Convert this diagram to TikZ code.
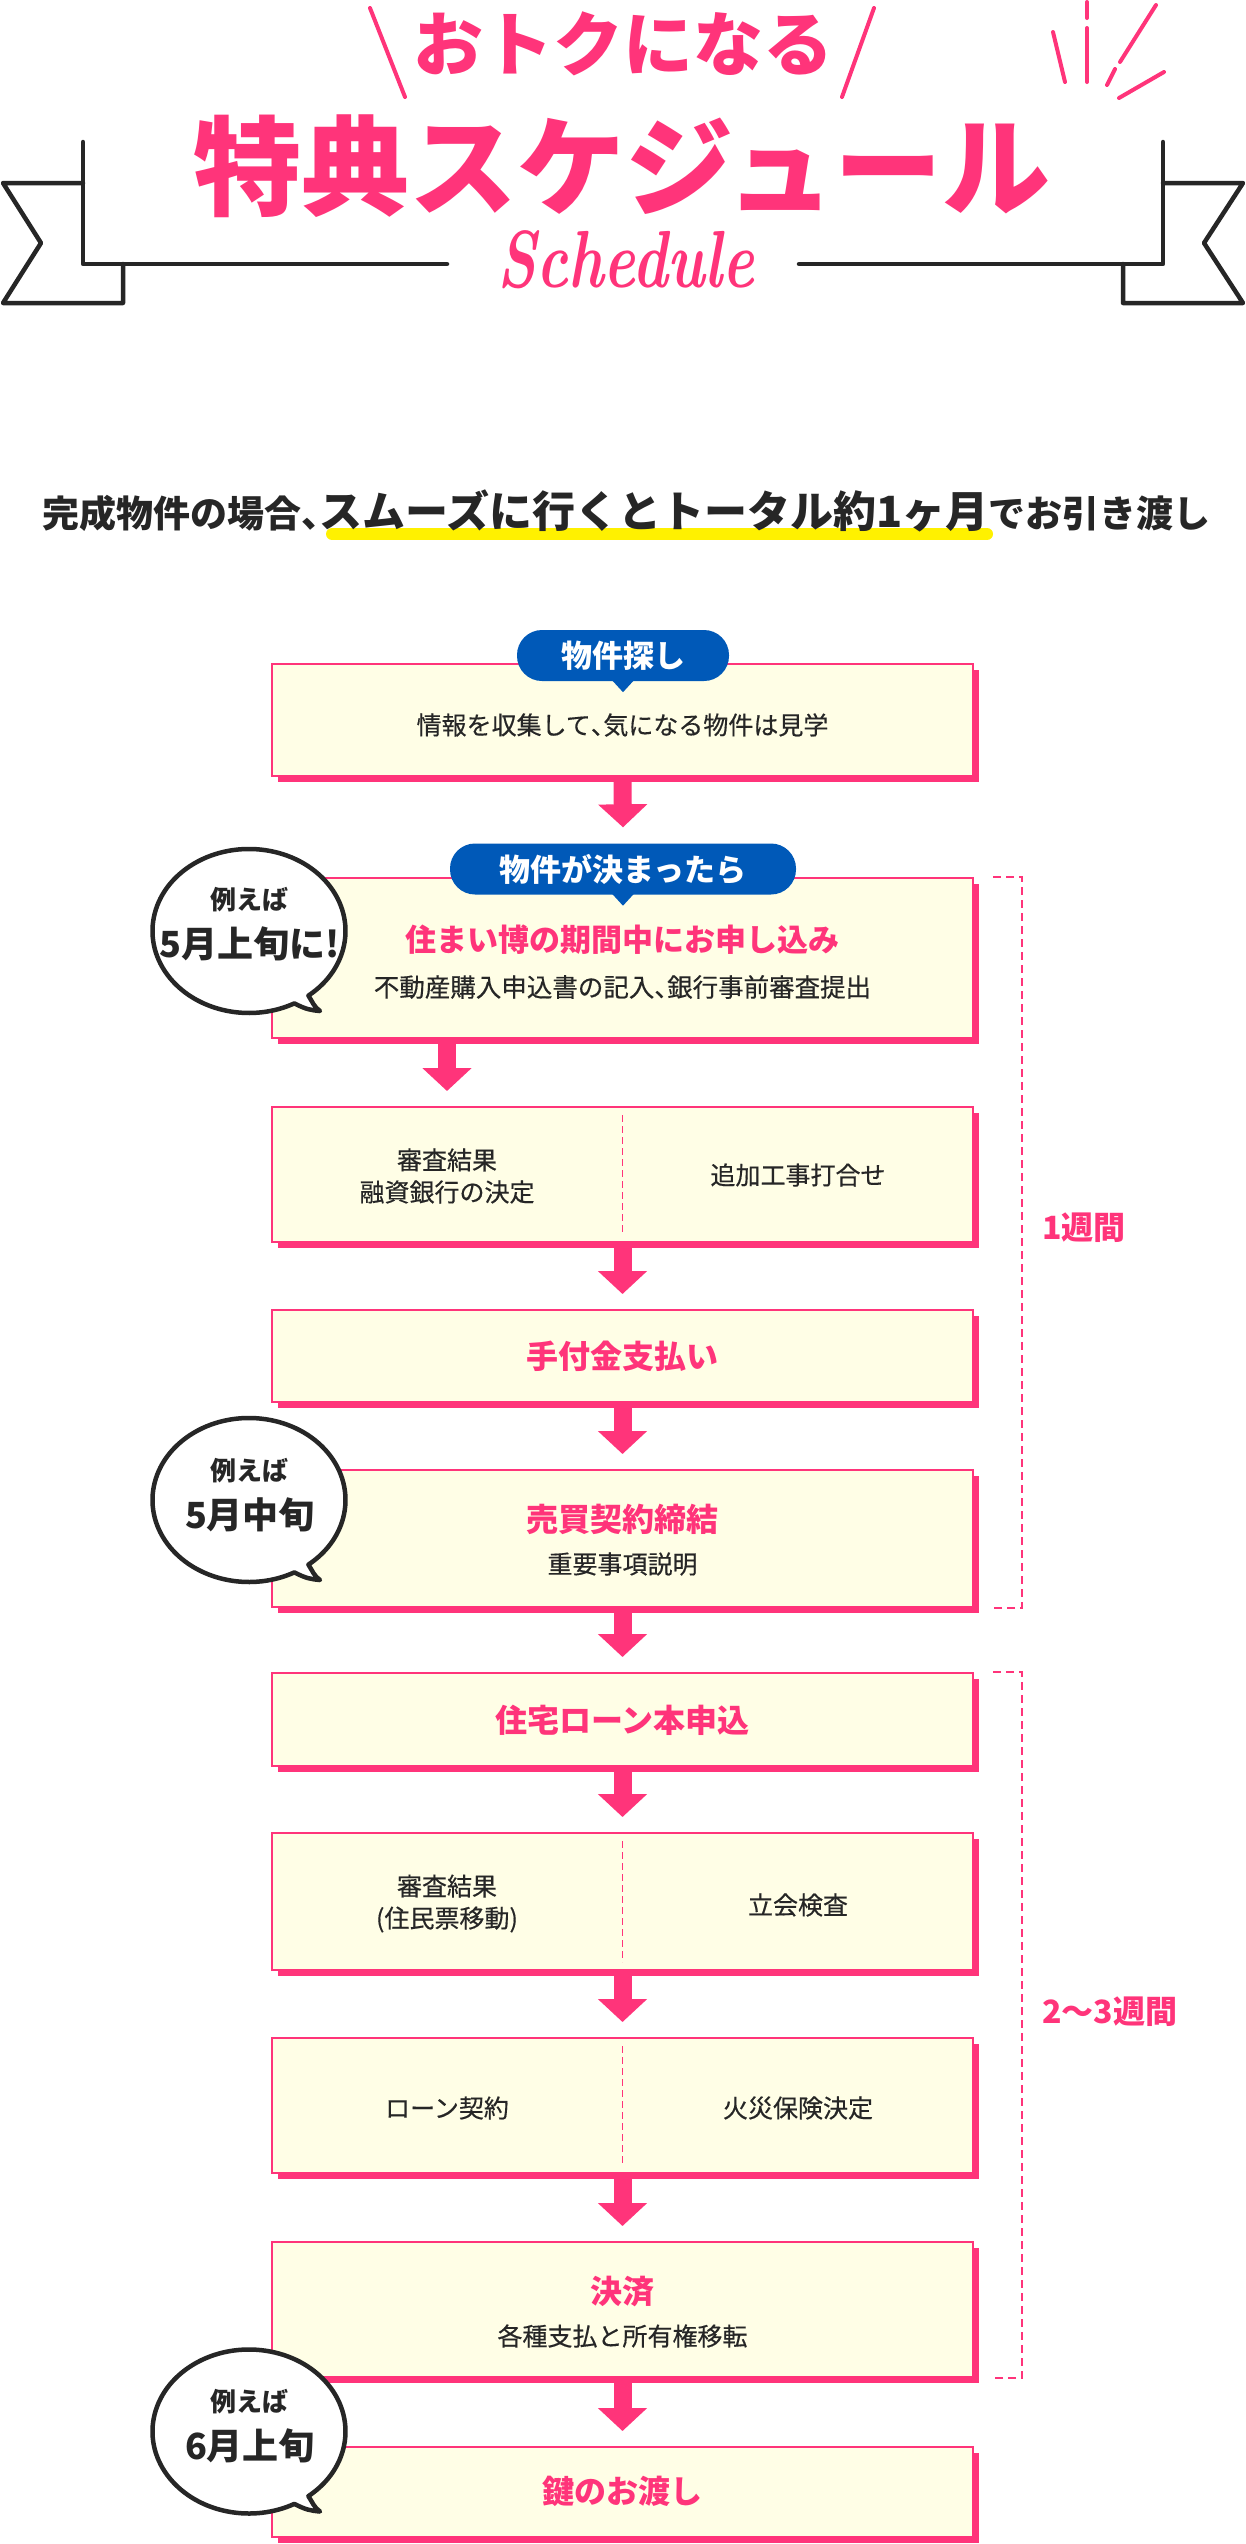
\documentclass[tikz,border=0pt]{standalone}
\usepackage{fontspec}
\usetikzlibrary{shadows,arrows.meta}
\newfontfamily\jpfont{Noto Sans CJK JP}
\newfontfamily\jpmedium[FakeBold=0.4]{Noto Sans CJK JP}
\newcommand\halfcomma{\makebox[0.5em][l]{、}}
\definecolor{mpink}{RGB}{255,52,122}
\definecolor{tagblue}{RGB}{0,89,184}
\definecolor{boxfill}{RGB}{255,254,230}
\definecolor{inkdark}{RGB}{38,38,38}
\definecolor{hlyellow}{RGB}{255,241,0}

\begin{document}
\begin{tikzpicture}[x=1pt,y=-1pt]
\tikzstyle{every node}+=[inner sep=0pt]
\tikzstyle{stepbox}=[draw=mpink, line width=2pt, fill=boxfill, minimum width=701pt, drop shadow={shadow xshift=6pt, shadow yshift=-6pt, fill=mpink, opacity=1}]
\tikzstyle{tagpill}=[fill=tagblue, rounded corners=25pt, minimum height=51pt, text=white, font=\jpfont\bfseries\fontsize{31pt}{31pt}\selectfont]
\tikzstyle{titletext}=[text=mpink, font=\jpfont\bfseries\fontsize{32pt}{36pt}\selectfont]
\tikzstyle{bodytext}=[text=inkdark, align=center, font=\jpmedium\fontsize{25pt}{32pt}\selectfont]
\tikzstyle{flowarrow}=[draw=mpink, line width=18pt, -{Triangle[width=48pt,length=23pt]}]
\tikzstyle{divider}=[draw=mpink, line width=1.5pt, dash pattern=on 7pt off 4pt]
\tikzstyle{bracketline}=[draw=mpink, line width=2pt, dash pattern=on 8pt off 5pt]
\tikzstyle{weektext}=[anchor=west, text=mpink, font=\jpfont\bfseries\fontsize{32pt}{32pt}\selectfont]
\tikzstyle{bubbleline}=[draw=inkdark, line width=4.5pt, fill=white, line join=round]
\tikzstyle{bubblesmall}=[text=inkdark, font=\jpfont\bfseries\fontsize{26pt}{26pt}\selectfont]
\tikzstyle{bubblebig}=[text=inkdark, font=\jpfont\bfseries\fontsize{36pt}{36pt}\selectfont]
\tikzstyle{ribbonline}=[draw=inkdark, line width=4.5pt, line join=round, line cap=round]
\tikzstyle{accentline}=[draw=mpink, line width=4pt, line cap=round]
\useasboundingbox (0,0) rectangle (1246,2544);
\fill[white] (0,0) rectangle (1246,2544);
\draw[ribbonline] (83,142) -- (83,264) -- (447,264);
\draw[ribbonline] (799,264) -- (1163,264) -- (1163,142);
\draw[ribbonline] (83,183) -- (3,183) -- (41,243) -- (3,303) -- (123,303) -- (123,264);
\draw[ribbonline] (1163,183) -- (1243,183) -- (1204,243) -- (1243,303) -- (1123,303) -- (1123,264);
\draw[accentline] (370,8) -- (405,97);
\draw[accentline] (874,8) -- (842,97);
\draw[accentline] (1053,32) -- (1065,82);
\draw[accentline] (1087,2) -- (1087,18);
\draw[accentline] (1087,28) -- (1087,82);
\draw[accentline] (1156,5) -- (1120,62);
\draw[accentline] (1115,69) -- (1107,85);
\draw[accentline] (1164,72) -- (1119,98);
\node[text=mpink, font=\jpfont\bfseries\fontsize{70pt}{70pt}\selectfont] (catch) at (623.5,43.5) {おトクになる};
\node[text=mpink, font=\jpfont\bfseries\fontsize{108pt}{108pt}\selectfont] (title) at (622,166.5) {特典スケジュール};
\node[text=mpink, font=\bfseries\itshape\fontsize{60pt}{60pt}\selectfont] (sched) at (626,260) {\scalebox{1}[1.35]{Schedule}};
\draw[hlyellow, line width=12pt, line cap=round] (332,534) -- (987,534);
\node[anchor=base west, text=inkdark, font=\jpfont\bfseries] (lead) at (42,527) {\fontsize{37pt}{37pt}\selectfont 完成物件の場合\halfcomma\fontsize{43pt}{43pt}\selectfont スムーズに行くとトータル約1ヶ月\fontsize{37pt}{37pt}\selectfont でお引き渡し};
\node[stepbox, minimum height=112pt] (b1) at (622.5,720) {};
\node[tagpill, minimum width=212pt] (tag1) at (623,655.5) {物件探し};
\fill[tagblue] ([xshift=-11pt,yshift=1pt]tag1.south) -- ([xshift=11pt,yshift=1pt]tag1.south) -- ([yshift=-11pt]tag1.south) -- cycle;
\node[bodytext] (t1) at (622.5,725) {情報を収集して\halfcomma 気になる物件は見学};
\node[stepbox, minimum height=160pt] (b2) at (622.5,958) {};
\node[tagpill, minimum width=346pt] (tag2) at (623,869) {物件が決まったら};
\fill[tagblue] ([xshift=-11pt,yshift=1pt]tag2.south) -- ([xshift=11pt,yshift=1pt]tag2.south) -- ([yshift=-11pt]tag2.south) -- cycle;
\node[titletext, font=\jpfont\bfseries\fontsize{31pt}{31pt}\selectfont] (t2a) at (622.5,940) {住まい博の期間中にお申し込み};
\node[bodytext, font=\jpmedium\fontsize{25.5pt}{32pt}\selectfont] (t2b) at (622.5,987) {不動産購入申込書の記入\halfcomma 銀行事前審査提出};
\node[stepbox, minimum height=135pt] (b3) at (622.5,1174.5) {};
\draw[divider] ([yshift=-9pt]b3.north) -- ([yshift=9pt]b3.south);
\node[bodytext] (b3l) at (447,1176) {審査結果\\融資銀行の決定};
\node[bodytext] (b3r) at (798,1175) {追加工事打合せ};
\node[stepbox, minimum height=92pt] (b4) at (622.5,1356) {};
\node[titletext] (t4) at (622.5,1356) {手付金支払い};
\node[stepbox, minimum height=137pt] (b5) at (622.5,1538.5) {};
\node[titletext] (t5a) at (622.5,1519) {売買契約締結};
\node[bodytext] (t5b) at (622.5,1564) {重要事項説明};
\node[stepbox, minimum height=93pt] (b6) at (622.5,1719.5) {};
\node[titletext] (t6) at (622.5,1720) {住宅ローン本申込};
\node[stepbox, minimum height=137pt] (b7) at (622.5,1901.5) {};
\draw[divider] ([yshift=-9pt]b7.north) -- ([yshift=9pt]b7.south);
\node[bodytext] (b7l) at (447,1903.5) {審査結果\\(住民票移動)};
\node[bodytext] (b7r) at (798,1905) {立会検査};
\node[stepbox, minimum height=135pt] (b8) at (622.5,2105.5) {};
\draw[divider] ([yshift=-9pt]b8.north) -- ([yshift=9pt]b8.south);
\node[bodytext] (b8l) at (447,2108) {ローン契約};
\node[bodytext] (b8r) at (798,2108) {火災保険決定};
\node[stepbox, minimum height=135pt] (b9) at (622.5,2309.5) {};
\node[titletext] (t9a) at (622.5,2291) {決済};
\node[bodytext] (t9b) at (622.5,2336) {各種支払と所有権移転};
\node[stepbox, minimum height=90pt] (b10) at (622.5,2492) {};
\node[titletext] (t10) at (622.5,2491) {鍵のお渡し};
\draw[flowarrow] ([yshift=-5pt]b1.south) -- ([yshift=16pt]tag2.north);
\draw[flowarrow] ([yshift=-5pt]b2.south -| b3l) -- ([yshift=15pt]b3.north -| b3l);
\draw[flowarrow] ([yshift=-5pt]b3.south) -- ([yshift=15pt]b4.north);
\draw[flowarrow] ([yshift=-5pt]b4.south) -- ([yshift=15pt]b5.north);
\draw[flowarrow] ([yshift=-5pt]b5.south) -- ([yshift=15pt]b6.north);
\draw[flowarrow] ([yshift=-5pt]b6.south) -- ([yshift=15pt]b7.north);
\draw[flowarrow] ([yshift=-5pt]b7.south) -- ([yshift=15pt]b8.north);
\draw[flowarrow] ([yshift=-5pt]b8.south) -- ([yshift=15pt]b9.north);
\draw[flowarrow] ([yshift=-5pt]b9.south) -- ([yshift=15pt]b10.north);
\draw[bracketline] ([xshift=19pt]b2.north east) -- ([xshift=48pt]b2.north east) -- ([xshift=48pt]b5.south east) -- ([xshift=19pt]b5.south east);
\draw[bracketline] ([xshift=19pt]b6.north east) -- ([xshift=48pt]b6.north east) -- ([xshift=48pt]b9.south east) -- ([xshift=19pt]b9.south east);
\node[weektext] (wk1) at (1042,1228) {1週間};
\node[weektext] (wk2) at (1042,2012) {2〜3週間};
\coordinate (bub1) at (249,931);
\draw[bubbleline] ([shift={(59.4,64.6)}]bub1) arc[start angle=52, end angle=-298, x radius=96.5, y radius=82] .. controls +(12,6) and +(-10,-1) .. ([shift={(71,80)}]bub1) .. controls +(-6,-4) and +(4,6) .. ([shift={(59.4,64.6)}]bub1) -- cycle;
\node[bubblesmall] (bub1a) at (249,900) {例えば};
\node[bubblebig] (bub1b) at (250,944) {5月上旬に!};
\coordinate (bub2) at (249,1500);
\draw[bubbleline] ([shift={(59.4,64.6)}]bub2) arc[start angle=52, end angle=-298, x radius=96.5, y radius=82] .. controls +(12,6) and +(-10,-1) .. ([shift={(71,80)}]bub2) .. controls +(-6,-4) and +(4,6) .. ([shift={(59.4,64.6)}]bub2) -- cycle;
\node[bubblesmall] (bub2a) at (249,1471) {例えば};
\node[bubblebig] (bub2b) at (250,1515) {5月中旬};
\coordinate (bub3) at (249,2431.5);
\draw[bubbleline] ([shift={(59.4,64.6)}]bub3) arc[start angle=52, end angle=-298, x radius=96.5, y radius=82] .. controls +(12,6) and +(-10,-1) .. ([shift={(71,80)}]bub3) .. controls +(-6,-4) and +(4,6) .. ([shift={(59.4,64.6)}]bub3) -- cycle;
\node[bubblesmall] (bub3a) at (249,2402) {例えば};
\node[bubblebig] (bub3b) at (250,2446) {6月上旬};
\end{tikzpicture}
\end{document}
